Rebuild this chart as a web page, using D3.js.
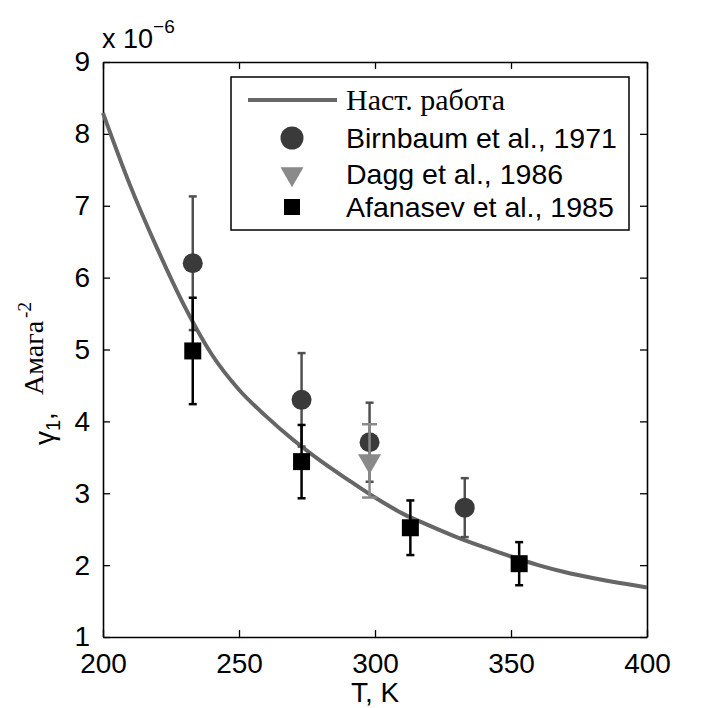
<!DOCTYPE html>
<html>
<head>
<meta charset="utf-8">
<script src="https://cdn.jsdelivr.net/npm/d3@7"></script>
<style>
  body { margin: 0; background: #fff; }
  svg { display: block; }
  .tick text { font-family: Arial, "Liberation Sans", sans-serif; }
</style>
</head>
<body>
<div class="chart"></div>
<script>
// model curve (units of 1e-6)
var curveT = [200, 210, 220, 230, 240, 250, 260, 270, 280, 290, 300, 310, 320, 330, 340, 350, 360, 370, 380, 390, 400];
var curveV = [8.29, 7.28, 6.40, 5.60, 4.93, 4.44, 4.07, 3.74, 3.45, 3.19, 2.94, 2.72, 2.55, 2.39, 2.25, 2.12, 2.00, 1.90, 1.82, 1.75, 1.69];

// Birnbaum et al., 1971
var birnT = [233, 273, 298, 333];
var birnV = [6.20, 4.30, 3.71, 2.80];
var birnErr = [0.93, 0.65, 0.55, 0.41];

// Dagg et al., 1986
var daggT = [298];
var daggV = [3.45];
var daggErr = [0.51];

// Afanasev et al., 1985
var afanT = [233, 273, 313, 353];
var afanV = [4.98, 3.44, 2.52, 2.02];
var afanErr = [0.74, 0.51, 0.38, 0.30];

var xTicks = [200, 250, 300, 350, 400];
var yTicks = [1, 2, 3, 4, 5, 6, 7, 8, 9];

var legendLabels = ["Наст. работа", "Birnbaum et al., 1971", "Dagg et al., 1986", "Afanasev et al., 1985"];

var w = 701, h = 708;
var padL = 103, padR = 647, padT = 62, padB = 637;

var x = d3.scaleLinear().domain([200, 400]).range([padL, padR]);
var y = d3.scaleLinear().domain([1, 9]).range([padB, padT]);

var svg = d3.select(".chart").append("svg")
    .attr("width", w)
    .attr("height", h);

var sans = "Arial, 'Liberation Sans', sans-serif";
var serif = "'Times New Roman', 'Liberation Serif', serif";

// axes (ticks inside, box style)
var axisB = d3.axisBottom(x).tickValues(xTicks).tickSizeInner(-7).tickSizeOuter(0).tickPadding(16);
var axisL = d3.axisLeft(y).tickValues(yTicks).tickSizeInner(-7).tickSizeOuter(0).tickPadding(13);
var axisT = d3.axisTop(x).tickValues(xTicks).tickSizeInner(-7).tickSizeOuter(0).tickFormat("");
var axisR = d3.axisRight(y).tickValues(yTicks).tickSizeInner(-7).tickSizeOuter(0).tickFormat("");

function styleAxis(g) {
    g.select(".domain").attr("stroke", "#000").attr("stroke-width", 1.6);
    g.selectAll(".tick line").attr("stroke", "#000").attr("stroke-width", 1.3);
    g.selectAll(".tick text").attr("font-size", 28).attr("fill", "#000");
}

svg.append("g").attr("transform", "translate(0," + padB + ")").call(axisB).call(styleAxis);
svg.append("g").attr("transform", "translate(" + padL + ",0)").call(axisL).call(styleAxis);
svg.append("g").attr("transform", "translate(0," + padT + ")").call(axisT).call(styleAxis);
svg.append("g").attr("transform", "translate(" + padR + ",0)").call(axisR).call(styleAxis);

// multiplier
var mult = svg.append("text")
    .attr("x", 102).attr("y", 48)
    .attr("font-family", sans).attr("font-size", 27);
mult.append("tspan").text("x 10");
mult.append("tspan").attr("dy", -15).attr("font-size", 19).text("\u22126");

// axis titles
svg.append("text")
    .attr("x", 375).attr("y", 702)
    .attr("text-anchor", "middle")
    .attr("font-family", sans).attr("font-size", 28)
    .text("T, K");

var yl = svg.append("text")
    .attr("transform", "translate(54,445) rotate(-90)")
    .attr("font-family", sans).attr("font-size", 28);
yl.append("tspan").text("\u03b3");
yl.append("tspan").attr("font-size", 20).attr("dy", 6).text("1");
yl.append("tspan").attr("dy", -6).text(",");

var yl2 = svg.append("text")
    .attr("transform", "translate(43,395) rotate(-90)")
    .attr("font-family", serif).attr("font-size", 28);
yl2.append("tspan").text("Амага");
yl2.append("tspan").attr("font-size", 19).attr("dx", 3).attr("dy", -12).text("-2");

var plot = svg.append("g");

// model curve
var line = d3.line()
    .x(function(d, i) { return x(curveT[i]); })
    .y(function(d) { return y(d); })
    .curve(d3.curveMonotoneX);

plot.append("path")
    .datum(curveV)
    .attr("d", line)
    .attr("fill", "none")
    .attr("stroke", "#666")
    .attr("stroke-width", 4);

function errorBars(ts, vs, es, color, cap, sw) {
    var g = plot.append("g");
    ts.forEach(function(t, i) {
        var cx = x(t);
        g.append("line")
            .attr("x1", cx).attr("x2", cx)
            .attr("y1", y(vs[i] - es[i])).attr("y2", y(vs[i] + es[i]))
            .attr("stroke", color).attr("stroke-width", sw);
        [vs[i] - es[i], vs[i] + es[i]].forEach(function(v) {
            g.append("line")
                .attr("x1", cx - cap / 2).attr("x2", cx + cap / 2)
                .attr("y1", y(v)).attr("y2", y(v))
                .attr("stroke", color).attr("stroke-width", sw);
        });
    });
    return g;
}

var circleCol = "#3a3a3a";
var triCol = "#8a8a8a";
var sqCol = "#000";

// Birnbaum
errorBars(birnT, birnV, birnErr, "#505050", 8, 2.5);
plot.selectAll(".birn")
    .data(birnV)
    .enter()
    .append("circle")
    .attr("class", "birn")
    .attr("cx", function(d, i) { return x(birnT[i]); })
    .attr("cy", function(d) { return y(d); })
    .attr("r", 10)
    .attr("fill", circleCol);

// Afanasev
errorBars(afanT, afanV, afanErr, "#000", 8, 2.5);
plot.selectAll(".afan")
    .data(afanV)
    .enter()
    .append("path")
    .attr("class", "afan")
    .attr("d", d3.symbol().type(d3.symbolSquare).size(17 * 17))
    .attr("transform", function(d, i) { return "translate(" + x(afanT[i]) + "," + y(d) + ")"; })
    .attr("fill", sqCol);

// Dagg
plot.selectAll(".dagg")
    .data(daggV)
    .enter()
    .append("path")
    .attr("class", "dagg")
    .attr("d", d3.symbol().type(d3.symbolTriangle).size(230))
    .attr("transform", function(d, i) { return "translate(" + x(daggT[i]) + "," + y(d) + ") rotate(180)"; })
    .attr("fill", triCol);
errorBars(daggT, daggV, daggErr, triCol, 15, 2.5);

// legend
var lg = svg.append("g");
lg.append("rect")
    .attr("x", 231).attr("y", 77)
    .attr("width", 398).attr("height", 153)
    .attr("fill", "#fff")
    .attr("stroke", "#000").attr("stroke-width", 1.5);

var rowY = [100, 138, 174, 207];
var mx = 292;

lg.append("line")
    .attr("x1", 248).attr("x2", 337)
    .attr("y1", rowY[0]).attr("y2", rowY[0])
    .attr("stroke", "#666").attr("stroke-width", 4);
lg.append("circle").attr("cx", mx).attr("cy", rowY[1]).attr("r", 11.5).attr("fill", circleCol);
lg.append("path")
    .attr("d", d3.symbol().type(d3.symbolTriangle).size(230))
    .attr("transform", "translate(" + mx + "," + rowY[2] + ") rotate(180)")
    .attr("fill", triCol);
lg.append("path")
    .attr("d", d3.symbol().type(d3.symbolSquare).size(16 * 16))
    .attr("transform", "translate(" + mx + "," + rowY[3] + ")")
    .attr("fill", sqCol);

lg.selectAll(".lt")
    .data(legendLabels)
    .enter()
    .append("text")
    .attr("class", "lt")
    .attr("x", 346)
    .attr("y", function(d, i) { return rowY[i] + 10; })
    .attr("font-family", function(d, i) { return i === 0 ? serif : sans; })
    .attr("font-size", function(d, i) { return i === 0 ? 30 : 28.5; })
    .text(function(d) { return d; });
</script>
</body>
</html>
